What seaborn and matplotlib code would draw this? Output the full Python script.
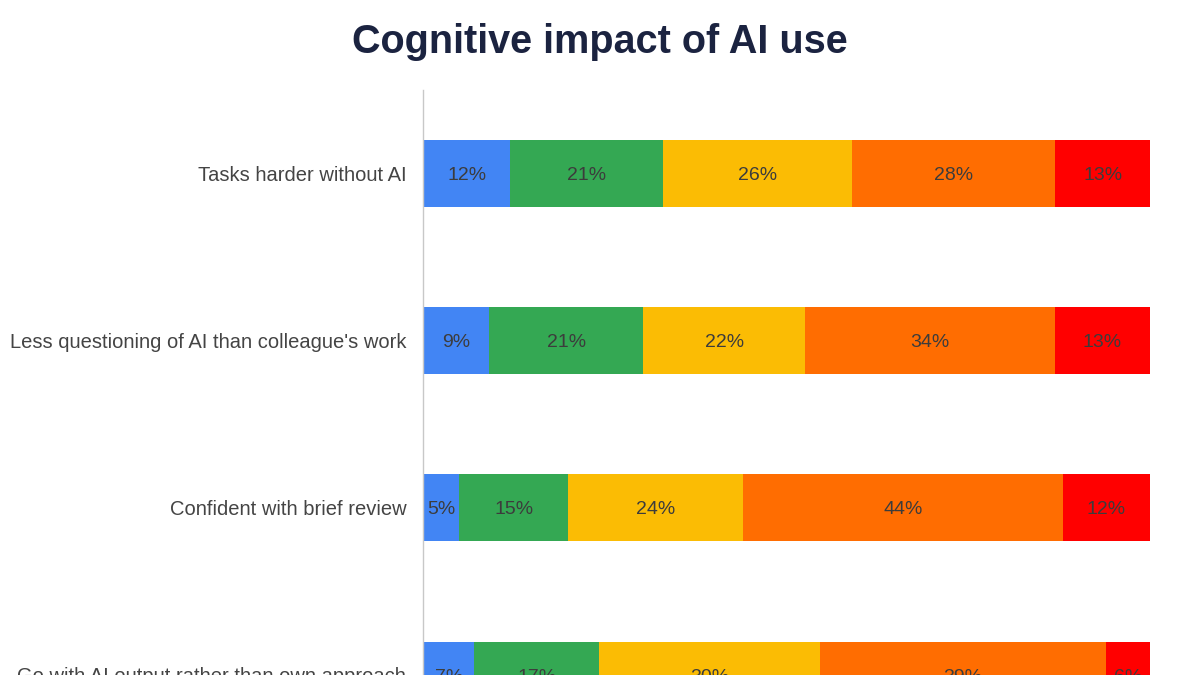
import matplotlib.pyplot as plt
import pandas as pd
import seaborn as sns

# chart data
statements = [
    "Tasks harder without AI",
    "Less questioning of AI than colleague's work",
    "Confident with brief review",
    "Go with AI output rather than own approach",
]
segments = ["s1", "s2", "s3", "s4", "s5"]
seg_1 = [12, 9, 5, 7]
seg_2 = [21, 21, 15, 17]
seg_3 = [26, 22, 24, 30]
seg_4 = [28, 34, 44, 39]
seg_5 = [13, 13, 12, 6]
seg_colors = ["#4285F4", "#34A853", "#FBBC04", "#FF6D01", "#FF0000"]


def main():
    df = pd.DataFrame(
        {"s1": seg_1, "s2": seg_2, "s3": seg_3, "s4": seg_4, "s5": seg_5},
        index=statements,
    )
    # bars are drawn as full 100% rows
    share = df.div(df.sum(axis=1), axis=0)
    cum = share.cumsum(axis=1)

    sns.set_theme(style="white")
    plt.rcParams["font.family"] = ["Liberation Sans", "DejaVu Sans"]

    fig = plt.figure(figsize=(12, 6.75), dpi=100)
    ax = fig.add_axes([423 / 1200, 0, 727 / 1200, 1 - 90 / 675])

    # draw cumulative bars from the widest down so they stack
    for seg, color in reversed(list(zip(segments, seg_colors))):
        sns.barplot(
            x=cum[seg].values,
            y=statements,
            orient="h",
            color=color,
            width=0.4,
            linewidth=0,
            saturation=1,
            ax=ax,
        )

    for i, stmt in enumerate(statements):
        for seg in segments:
            left = cum.loc[stmt, seg] - share.loc[stmt, seg]
            ax.text(
                left + share.loc[stmt, seg] / 2,
                i,
                f"{df.loc[stmt, seg]}%",
                ha="center",
                va="center_baseline",
                fontsize=14,
                color="#3c3c3c",
            )

    ax.set_xlim(0, 1)
    ax.set_ylim(3.0, -0.5)
    ax.set_xlabel("")
    ax.set_ylabel("")
    ax.set_xticks([])
    ax.tick_params(axis="y", labelsize=14.5, labelcolor="#444444", length=0, pad=12)
    for side in ["top", "right", "bottom"]:
        ax.spines[side].set_visible(False)
    ax.spines["left"].set_color("#c8c8c8")
    ax.spines["left"].set_linewidth(1)

    fig.text(
        0.5,
        1 - 42 / 675,
        "Cognitive impact of AI use",
        ha="center",
        va="center",
        fontsize=28.5,
        fontweight="bold",
        color="#1b2340",
    )

    fig.savefig("out.png", dpi=100)


if __name__ == "__main__":
    main()
